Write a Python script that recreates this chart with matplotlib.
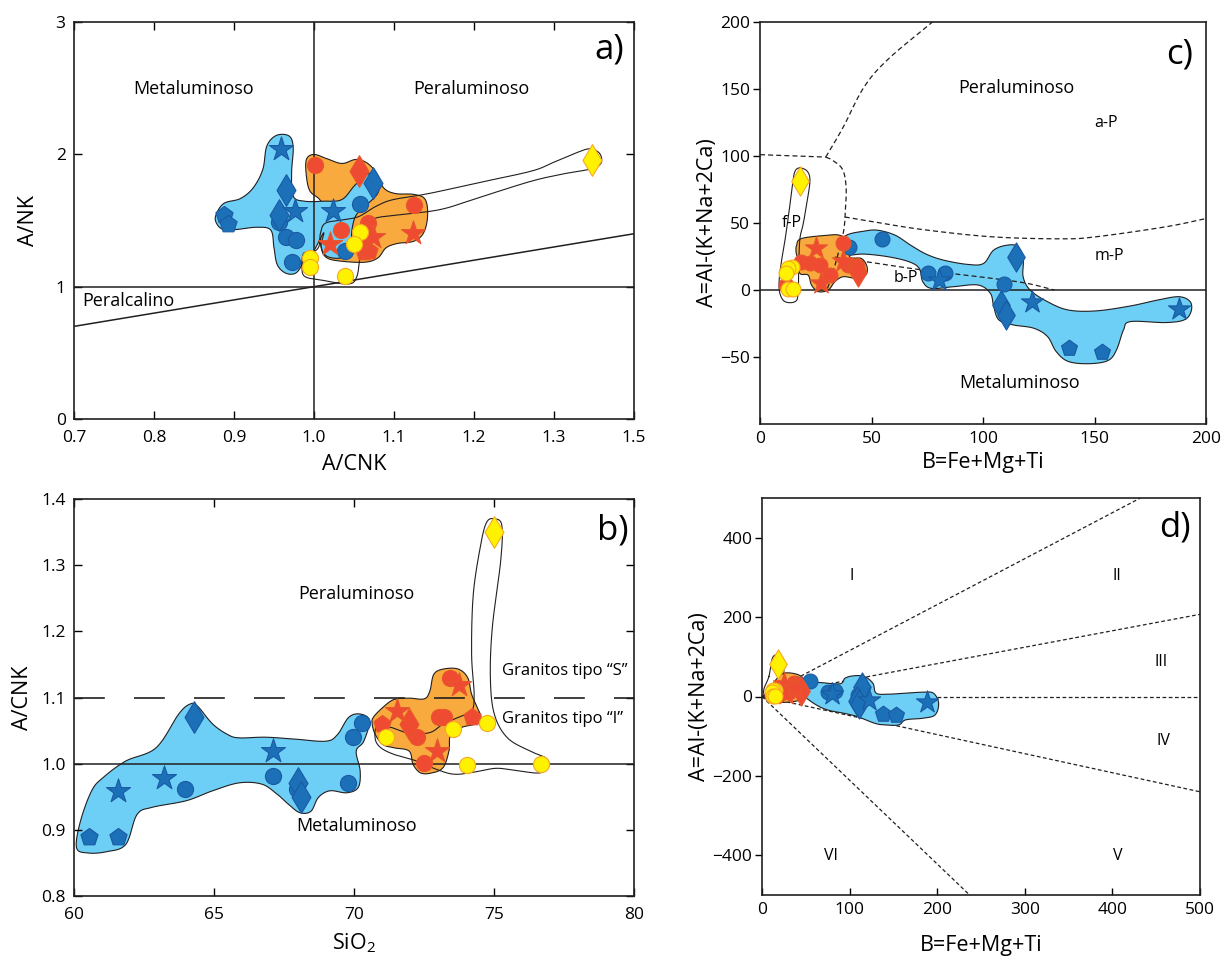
import numpy as np
import matplotlib
matplotlib.use("Agg")
import matplotlib.pyplot as plt

plt.rcParams['font.family'] = ['Open Sans', 'DejaVu Sans']
plt.rcParams['mathtext.default'] = 'regular'

# ---------------- colours ----------------
BLUE_FILL = '#6dcff6'
BLUE_FACE = '#1c70b8'
BLUE_EDGE = '#1a5aa3'
ORANGE_FILL = '#f9aa3f'
RED_FACE = '#ef4b33'
RED_EDGE = '#e8562a'
YEL_FACE = '#fff200'
YEL_EDGE = '#f7a823'
LINE = '#231f20'

# ---------------- panel a data (A/CNK vs A/NK) ----------------
a_xticks = [0.7, 0.8, 0.9, 1.0, 1.1, 1.2, 1.3, 1.4]
a_xticklabels = ['0.7', '0.8', '0.9', '1.0', '1.1', '1.2', '1.3', '1.5']
a_yticks = [0, 1, 2, 3]

a_blue_x = [0.959, 0.9645, 0.976, 0.956, 0.956, 0.9645, 0.978, 0.9726, 0.888, 0.893, 1.024, 1.0576, 1.074, 1.0387]
a_blue_y = [2.037, 1.734, 1.570, 1.538, 1.487, 1.376, 1.351, 1.187, 1.538, 1.477, 1.570, 1.626, 1.785, 1.268]
a_blue_m = ['*', 'd', '*', 'd', 'o', 'o', 'o', 'o', 'p', 'p', '*', 'o', 'd', 'o']

a_red_x = [1.001, 1.056, 1.125, 1.034, 1.067, 1.020, 1.074, 1.124, 1.064, 1.062, 1.069]
a_red_y = [1.918, 1.871, 1.619, 1.428, 1.478, 1.325, 1.377, 1.402, 1.378, 1.264, 1.270]
a_red_m = ['o', 'd', 'o', 'o', 'o', '*', '*', '*', 'o', 'p', 'p']

a_yel_x = [1.058, 1.0497, 0.9955, 0.9955, 1.039, 1.347]
a_yel_y = [1.416, 1.322, 1.214, 1.151, 1.083, 1.954]
a_yel_m = ['o', 'o', 'o', 'o', 'o', 'd']

a_blue_env_x = [0.877, 0.887, 0.908, 0.924, 0.936, 0.941, 0.953, 0.969, 0.974, 0.972, 0.974, 0.988, 1.012,
                1.035, 1.052, 1.071, 1.080, 1.080, 1.064, 1.052, 1.047, 1.047, 1.035, 1.016, 1.009, 1.012,
                0.998, 0.988, 0.984, 0.976, 0.964, 0.954, 0.950, 0.946, 0.929, 0.903, 0.887, 0.879]
a_blue_env_y = [1.533, 1.628, 1.666, 1.747, 1.886, 2.062, 2.143, 2.138, 2.049, 1.860, 1.684, 1.646, 1.646,
                1.659, 1.772, 1.860, 1.810, 1.709, 1.608, 1.533, 1.407, 1.281, 1.218, 1.230, 1.306, 1.407,
                1.255, 1.243, 1.155, 1.099, 1.104, 1.167, 1.293, 1.427, 1.449, 1.432, 1.432, 1.470]
a_or_env_x = [0.9905, 1.000, 1.0165, 1.035, 1.052, 1.066, 1.078, 1.087, 1.1015, 1.125, 1.139, 1.142, 1.137,
              1.125, 1.104, 1.090, 1.080, 1.064, 1.035, 1.016, 1.009, 1.009, 1.0165, 1.007, 0.995, 0.9905]
a_or_env_y = [1.961, 1.999, 1.966, 1.931, 1.961, 1.936, 1.860, 1.747, 1.704, 1.697, 1.659, 1.533, 1.407,
              1.344, 1.326, 1.293, 1.218, 1.185, 1.192, 1.218, 1.293, 1.407, 1.558, 1.659, 1.722, 1.835]
a_yel_env_x = [0.9975, 1.006, 1.008, 1.014, 1.035, 1.0556, 1.0765, 1.097, 1.134, 1.158, 1.205, 1.2716, 1.300,
               1.328, 1.345, 1.357, 1.359, 1.347, 1.314, 1.2716, 1.205, 1.158, 1.105, 1.0765, 1.062, 1.058,
               1.0535, 1.043, 1.014, 0.989, 0.985, 0.987]
a_yel_env_y = [1.257, 1.302, 1.403, 1.479, 1.504, 1.529, 1.604, 1.655, 1.693, 1.722, 1.785, 1.873, 1.941,
               2.012, 2.042, 2.007, 1.936, 1.891, 1.855, 1.797, 1.671, 1.583, 1.542, 1.517, 1.453, 1.252,
               1.075, 1.020, 1.045, 1.075, 1.151, 1.252]

# ---------------- panel b data (SiO2 vs A/CNK) ----------------
b_xticks = [60, 65, 70, 75, 80]
b_yticks = [0.8, 0.9, 1.0, 1.1, 1.2, 1.3, 1.4]

b_blue_x = [60.53, 61.58, 61.58, 63.2, 63.97, 64.28, 67.11, 67.11, 67.95, 67.99, 68.12, 69.77, 69.95, 70.28]
b_blue_y = [0.889, 0.889, 0.959, 0.979, 0.961, 1.070, 1.019, 0.981, 0.961, 0.971, 0.949, 0.971, 1.040, 1.061]
b_blue_m = ['p', 'p', '*', '*', 'o', 'd', '*', 'o', 'o', 'd', 'd', 'o', 'o', 'o']

b_red_x = [70.99, 71.52, 71.97, 72.24, 72.51, 72.98, 73.05, 73.21, 73.43, 73.75, 74.20]
b_red_y = [1.060, 1.080, 1.060, 1.040, 1.001, 1.019, 1.071, 1.071, 1.130, 1.119, 1.070]
b_red_m = ['p', '*', 'd', 'o', 'o', '*', 'o', 'o', 'o', '*', 'p']

b_yel_x = [71.13, 73.55, 74.02, 74.74, 76.67, 75.01]
b_yel_y = [1.040, 1.052, 0.998, 1.062, 0.999, 1.350]
b_yel_m = ['o', 'o', 'o', 'o', 'o', 'd']

b_blue_env_x = [60.09, 60.23, 60.63, 61.04, 61.85, 62.93, 63.74, 64.14, 64.41, 64.95, 65.49, 65.90, 66.84,
                67.92, 69.00, 69.41, 69.81, 70.22, 70.55, 70.35, 70.08, 70.22, 70.15, 69.74, 69.14, 68.73,
                68.46, 68.06, 67.65, 67.25, 66.71, 65.90, 64.95, 64.01, 62.79, 62.25, 61.85, 61.17, 60.50]
b_blue_env_y = [0.873, 0.913, 0.959, 0.979, 1.004, 1.024, 1.075, 1.090, 1.087, 1.060, 1.044, 1.039, 1.040,
                1.037, 1.034, 1.044, 1.070, 1.075, 1.065, 1.034, 1.019, 0.989, 0.964, 0.956, 0.959, 0.949,
                0.928, 0.926, 0.939, 0.954, 0.969, 0.971, 0.959, 0.944, 0.934, 0.923, 0.878, 0.867, 0.865]
b_or_env_x = [70.69, 71.03, 71.43, 71.97, 72.51, 72.71, 72.85, 73.19, 73.72, 74.06, 74.20, 74.40, 74.53,
              74.33, 73.86, 73.45, 73.39, 73.18, 72.78, 72.38, 72.11, 71.97, 71.43, 71.03, 70.76, 70.65]
b_or_env_y = [1.070, 1.085, 1.097, 1.099, 1.098, 1.110, 1.135, 1.143, 1.143, 1.130, 1.105, 1.085, 1.070,
              1.060, 1.055, 1.044, 1.019, 0.994, 0.986, 0.986, 0.999, 1.019, 1.024, 1.029, 1.044, 1.060]
b_yel_env_x = [70.82, 71.30, 71.97, 72.71, 73.18, 73.72, 74.20, 74.29, 74.20, 74.26, 74.53, 74.74, 75.01,
               75.28, 75.24, 74.94, 74.87, 75.01, 75.48, 76.29, 76.83, 76.96, 76.63, 75.75, 75.07, 74.40,
               73.59, 72.91, 72.24, 71.43, 70.96, 70.76]
b_yel_env_y = [1.056, 1.055, 1.046, 1.047, 1.060, 1.070, 1.080, 1.105, 1.166, 1.256, 1.332, 1.365, 1.370,
               1.360, 1.307, 1.206, 1.130, 1.075, 1.039, 1.019, 1.009, 0.997, 0.986, 0.990, 0.993, 0.988,
               0.984, 0.992, 1.004, 1.014, 1.024, 1.037]

# ---------------- panel c / d data (B vs A) ----------------
c_xticks = [0, 50, 100, 150, 200]
c_yticks = [-50, 0, 50, 100, 150, 200]
d_xticks = [0, 100, 200, 300, 400, 500]
d_yticks = [-400, -200, 0, 200, 400]

c_blue_x = [40.1, 54.7, 75.3, 83.1, 109.5, 138.5, 153.3, 114.6, 108.2, 110.2, 80.4, 121.9, 187.9]
c_blue_y = [32.2, 37.9, 12.4, 12.9, 4.2, -43.4, -45.9, 24.8, -11.2, -18.6, 7.4, -8.7, -14.4]
c_blue_m = ['o', 'o', 'o', 'o', 'o', 'p', 'p', 'd', 'd', 'd', '*', '*', '*']

c_red_x = [11.6, 18.6, 22.4, 26.8, 31.3, 37.0, 39.5, 43.3, 44.0, 25.1, 27.2, 37.3]
c_red_y = [3.7, 21.0, 19.8, 18.6, 11.1, 35.1, 18.6, 17.8, 13.6, 31.7, 5.4, 22.0]
c_red_m = ['o', 'o', 'o', 'o', 'o', 'o', 'o', 'o', 'd', '*', '*', '*']

c_yel_x = [14.5, 12.7, 11.6, 12.4, 14.9, 17.9]
c_yel_y = [17.5, 16.1, 12.4, 0.5, 0.5, 81.2]
c_yel_m = ['o', 'o', 'o', 'o', 'o', 'd']

c_blue_env_x = [34.9, 38.8, 46.6, 52.8, 60.6, 67.5, 74.5, 82.3, 93.2, 100.2, 104.8, 111.0, 115.7, 118.0, 118.0,
                121.1, 128.9, 138.2, 150.6, 166.1, 178.6, 187.9, 192.9, 193.3, 190.2, 181.7, 166.1, 163.0,
                159.9, 156.1, 147.5, 138.2, 132.8, 128.9, 122.7, 113.4, 107.1, 104.8, 103.3, 97.8, 87.0,
                76.9, 73.0, 71.4, 66.8, 57.5, 46.6, 38.8, 35.7]
c_blue_env_y = [33.5, 40.9, 43.9, 44.6, 40.9, 33.5, 26.8, 22.3, 19.1, 19.8, 29.8, 33.5, 32.2, 22.3, 9.9,
                0.0, -8.7, -14.9, -15.6, -11.9, -7.4, -5.0, -8.7, -16.1, -22.3, -24.3, -23.6, -29.8,
                -44.6, -52.6, -55.0, -53.3, -45.9, -34.7, -28.5, -26.0, -22.3, -12.4, -2.5, 3.7, 2.5,
                1.2, 6.2, 16.1, 21.1, 24.8, 26.8, 26.0, 29.3]
c_or_env_x = [16.4, 18.6, 29.8, 35.8, 39.5, 40.3, 45.5, 48.0, 47.4, 43.3, 37.3, 33.6, 30.6, 26.1, 23.1,
              21.6, 17.9, 17.1, 16.2]
c_or_env_y = [33.4, 38.4, 40.8, 40.8, 35.9, 24.7, 23.5, 17.3, 11.1, 8.7, 9.9, 6.2, 0.0, -1.2, 3.7,
              11.1, 12.4, 22.3, 28.0]
c_yel_env_x = [17.9, 21.2, 22.4, 21.2, 19.4, 17.9, 17.4, 17.1, 15.7, 11.2, 8.9, 8.6, 9.7, 11.2, 13.1, 14.6, 15.7]
c_yel_env_y = [91.1, 88.6, 81.7, 66.8, 49.5, 38.4, 20.0, -2.5, -8.7, -8.7, -2.5, 7.4, 22.3, 37.1, 59.4, 79.2, 88.6]

c_bnd1_x = [0, 29.5]
c_bnd1_y = [101, 99.2]
c_bnd2_x = [29.5, 37.3, 46.6, 57.5, 77.6]
c_bnd2_y = [99.2, 121.5, 151.3, 172.3, 200.4]
c_bnd3_x = [29.5, 32.6, 37.0, 38.6, 38.3, 37.6, 35.5, 32.5, 30.0]
c_bnd3_y = [99.2, 96.7, 90.0, 77.0, 60.0, 45.0, 30.0, 12.0, 0.0]
c_bnd4_x = [38.0, 51.2, 73.0, 104.0, 135.1, 150.6, 181.7, 200.0]
c_bnd4_y = [54.5, 50.8, 45.1, 39.7, 38.2, 39.7, 47.1, 53.3]
c_bnd5_x = [33.5, 50.0, 73.0, 104.0, 119.6, 132.0]
c_bnd5_y = [24.5, 20.5, 14.9, 8.7, 5.0, 0.0]

d_ray_x = [432, 500, 500, 500, 237]
d_ray_y = [500, 207, 0, -240, -500]

d_blue_env_x = [47.4, 65.2, 88.9, 94.9, 104.7, 116.6, 126.5, 130.4, 144.3, 164.0, 183.8, 195.7, 201.6, 197.6,
                183.8, 164.0, 156.1, 140.3, 128.5, 108.7, 92.9, 77.1, 65.2, 53.4, 45.5]
d_blue_env_y = [35.3, 35.3, 32.0, 46.3, 52.1, 50.5, 33.6, 8.4, 5.9, 8.4, 10.9, 8.4, -16.8, -46.3,
                -54.7, -58.9, -71.5, -71.5, -67.3, -50.5, -42.0, -35.3, -25.2, -8.4, 8.4]
d_or_env_x = [9.9, 15.8, 25.7, 41.5, 49.4, 51.4, 41.5, 21.7, 9.9, 4.0]
d_or_env_y = [16.8, 42.0, 58.9, 54.7, 37.8, 8.4, -10.0, -15.1, -12.6, 0.0]
d_yel_env_x = [7.9, 11.9, 17.8, 23.7, 24.9, 25.7, 23.7, 11.9, 4.0, 2.0]
d_yel_env_y = [50.5, 96.7, 105.0, 96.7, 67.3, 8.4, -12.6, -15.1, -4.2, 16.8]


# ---------------- helpers ----------------
def smooth_closed(xs, ys, n=14):
    P = np.column_stack([xs, ys]).astype(float)
    N = len(P)
    t = np.linspace(0, 1, n, endpoint=False)[:, None]
    segs = []
    for i in range(N):
        p0, p1, p2, p3 = P[i - 1], P[i], P[(i + 1) % N], P[(i + 2) % N]
        segs.append(0.5 * (2 * p1 + (-p0 + p2) * t + (2 * p0 - 5 * p1 + 4 * p2 - p3) * t ** 2
                           + (-p0 + 3 * p1 - 3 * p2 + p3) * t ** 3))
    out = np.vstack(segs)
    out = np.vstack([out, out[:1]])
    return out[:, 0], out[:, 1]


def smooth_open(xs, ys, n=14):
    P = np.column_stack([xs, ys]).astype(float)
    P = np.vstack([2 * P[0] - P[1], P, 2 * P[-1] - P[-2]])
    t = np.linspace(0, 1, n, endpoint=False)[:, None]
    segs = []
    for i in range(1, len(P) - 2):
        p0, p1, p2, p3 = P[i - 1], P[i], P[i + 1], P[i + 2]
        segs.append(0.5 * (2 * p1 + (-p0 + p2) * t + (2 * p0 - 5 * p1 + 4 * p2 - p3) * t ** 2
                           + (-p0 + 3 * p1 - 3 * p2 + p3) * t ** 3))
    out = np.vstack(segs + [P[-2][None, :]])
    return out[:, 0], out[:, 1]


def envelope(ax, xs, ys, fill, z):
    sx, sy = smooth_closed(xs, ys)
    if fill is None:
        ax.plot(sx, sy, color=LINE, lw=0.8, zorder=z)
    else:
        ax.fill(sx, sy, facecolor=fill, edgecolor=LINE, lw=0.8, zorder=z)


SIZES = {'o': 135, 'p': 170, 'd': 260, '*': 330}


def group(ax, xs, ys, ms, face, edge, scale=1.0, z=6):
    for m in ['o', 'p', 'd', '*']:
        idx = [i for i, k in enumerate(ms) if k == m]
        if idx:
            ax.scatter([xs[i] for i in idx], [ys[i] for i in idx], marker=m, s=SIZES[m] * scale,
                       facecolor=face, edgecolor=edge, linewidths=0.8, zorder=z)


def style(ax):
    for sp in ax.spines.values():
        sp.set_linewidth(1.2)
        sp.set_color(LINE)


TICK_FS = 12.5
LAB_FS = 15.5
REG_FS = 13
LET_FS = 25

fig = plt.figure(figsize=(12.23, 9.56), dpi=100)
W, H = 1223.0, 956.0
axa = fig.add_axes([74 / W, 1 - 419 / H, 560 / W, 397 / H])
axb = fig.add_axes([74 / W, 1 - 896 / H, 560 / W, 397 / H])
axc = fig.add_axes([760 / W, 1 - 424 / H, 446 / W, 402 / H])
axd = fig.add_axes([762 / W, 1 - 895 / H, 438 / W, 397 / H])

# ---------------- panel a ----------------
ax = axa
ax.set_xlim(a_xticks[0], a_xticks[-1])
ax.set_ylim(a_yticks[0], a_yticks[-1])
envelope(ax, a_or_env_x, a_or_env_y, ORANGE_FILL, 1)
envelope(ax, a_blue_env_x, a_blue_env_y, BLUE_FILL, 2)
envelope(ax, a_yel_env_x, a_yel_env_y, None, 3)
ax.axvline(1.0, color=LINE, lw=1.1, zorder=4)
ax.axhline(1.0, color=LINE, lw=1.1, zorder=4)
ax.plot([a_xticks[0], a_xticks[-1]], [a_xticks[0], a_xticks[-1]], color=LINE, lw=1.1, zorder=4)
group(ax, a_blue_x, a_blue_y, a_blue_m, BLUE_FACE, BLUE_EDGE)
group(ax, a_red_x, a_red_y, a_red_m, RED_FACE, RED_EDGE, z=7)
group(ax, a_yel_x, a_yel_y, a_yel_m, YEL_FACE, YEL_EDGE, z=8)
ax.set_xticks(a_xticks)
ax.set_xticklabels(a_xticklabels)
ax.set_yticks(a_yticks)
ax.tick_params(direction='in', top=True, right=True, length=6, width=1, labelsize=TICK_FS)
ax.tick_params(axis='x', pad=8)
ax.tick_params(axis='y', pad=6)
ax.set_xlabel('A/CNK', fontsize=LAB_FS, labelpad=6)
ax.set_ylabel('A/NK', fontsize=LAB_FS, labelpad=12)
ax.text(0.849, 2.49, 'Metaluminoso', fontsize=REG_FS, ha='center', va='center')
ax.text(1.197, 2.49, 'Peraluminoso', fontsize=REG_FS, ha='center', va='center')
ax.text(0.710, 0.89, 'Peralcalino', fontsize=REG_FS, ha='left', va='center')
ax.text(0.955, 0.93, 'a)', fontsize=LET_FS, ha='center', va='center', transform=ax.transAxes)
style(ax)

# ---------------- panel b ----------------
ax = axb
ax.set_xlim(b_xticks[0], b_xticks[-1])
ax.set_ylim(b_yticks[0], b_yticks[-1])
envelope(ax, b_blue_env_x, b_blue_env_y, BLUE_FILL, 1)
envelope(ax, b_or_env_x, b_or_env_y, ORANGE_FILL, 2)
envelope(ax, b_yel_env_x, b_yel_env_y, None, 3)
ax.axhline(1.0, color=LINE, lw=1.1, zorder=4)
ax.plot([b_xticks[0], b_xticks[-1]], [1.1, 1.1], color=LINE, lw=1.2, dashes=(18.5, 17.5), zorder=4)
group(ax, b_blue_x, b_blue_y, b_blue_m, BLUE_FACE, BLUE_EDGE)
group(ax, b_red_x, b_red_y, b_red_m, RED_FACE, RED_EDGE, z=7)
group(ax, b_yel_x, b_yel_y, b_yel_m, YEL_FACE, YEL_EDGE, z=8)
ax.set_xticks(b_xticks)
ax.set_yticks(b_yticks)
ax.set_yticklabels(['%.1f' % v for v in b_yticks])
ax.tick_params(direction='in', top=True, right=True, length=6, width=1, labelsize=TICK_FS)
ax.tick_params(axis='x', pad=8)
ax.tick_params(axis='y', pad=6)
ax.set_xlabel('SiO$_2$', fontsize=LAB_FS, labelpad=6)
ax.set_ylabel('A/CNK', fontsize=LAB_FS, labelpad=6)
ax.text(70.1, 1.256, 'Peraluminoso', fontsize=REG_FS, ha='center', va='center')
ax.text(70.1, 0.906, 'Metaluminoso', fontsize=REG_FS, ha='center', va='center')
ax.text(75.3, 1.140, 'Granitos tipo \u201cS\u201d', fontsize=12, ha='left', va='center')
ax.text(75.3, 1.067, 'Granitos tipo \u201cI\u201d', fontsize=12, ha='left', va='center')
ax.text(0.962, 0.92, 'b)', fontsize=LET_FS, ha='center', va='center', transform=ax.transAxes)
style(ax)

# ---------------- panel c ----------------
ax = axc
ax.set_xlim(c_xticks[0], c_xticks[-1])
ax.set_ylim(-100, c_yticks[-1])
envelope(ax, c_blue_env_x, c_blue_env_y, BLUE_FILL, 1)
envelope(ax, c_or_env_x, c_or_env_y, ORANGE_FILL, 2)
envelope(ax, c_yel_env_x, c_yel_env_y, None, 3)
ax.axhline(0, color=LINE, lw=1.1, zorder=4)
for bx, by in [(c_bnd1_x, c_bnd1_y), (c_bnd2_x, c_bnd2_y), (c_bnd3_x, c_bnd3_y),
               (c_bnd4_x, c_bnd4_y), (c_bnd5_x, c_bnd5_y)]:
    sx, sy = smooth_open(bx, by)
    ax.plot(sx, sy, color=LINE, lw=0.9, dashes=(4, 2.5), zorder=4)
group(ax, c_blue_x, c_blue_y, c_blue_m, BLUE_FACE, BLUE_EDGE, scale=0.85)
group(ax, c_red_x, c_red_y, c_red_m, RED_FACE, RED_EDGE, scale=0.85, z=7)
group(ax, c_yel_x, c_yel_y, c_yel_m, YEL_FACE, YEL_EDGE, scale=0.85, z=8)
ax.set_xticks(c_xticks)
ax.set_yticks(c_yticks)
ax.tick_params(axis='x', direction='in', length=5, width=1, labelsize=TICK_FS, pad=5)
ax.tick_params(axis='y', direction='out', length=5, width=1, labelsize=TICK_FS, pad=2)
ax.set_xlabel('B=Fe+Mg+Ti', fontsize=LAB_FS, labelpad=4)
ax.set_ylabel('A=Al-(K+Na+2Ca)', fontsize=LAB_FS, labelpad=2)
ax.text(114.9, 150.8, 'Peraluminoso', fontsize=REG_FS, ha='center', va='center')
ax.text(116.5, -69.4, 'Metaluminoso', fontsize=REG_FS, ha='center', va='center')
ax.text(155, 124.5, 'a-P', fontsize=11.5, ha='center', va='center')
ax.text(156.8, 25.3, 'm-P', fontsize=11.5, ha='center', va='center')
ax.text(65.2, 8.7, 'b-P', fontsize=11.5, ha='center', va='center', zorder=9)
ax.text(14.3, 50.0, 'f-P', fontsize=11.5, ha='center', va='center', zorder=9)
ax.text(0.94, 0.92, 'c)', fontsize=LET_FS, ha='center', va='center', transform=ax.transAxes)
style(ax)

# ---------------- panel d ----------------
ax = axd
ax.set_xlim(d_xticks[0], d_xticks[-1])
ax.set_ylim(-500, 500)
for ex, ey in zip(d_ray_x, d_ray_y):
    ax.plot([0, ex], [0, ey], color=LINE, lw=0.9, dashes=(3, 2), zorder=1)
envelope(ax, d_blue_env_x, d_blue_env_y, BLUE_FILL, 2)
envelope(ax, d_or_env_x, d_or_env_y, ORANGE_FILL, 3)
envelope(ax, d_yel_env_x, d_yel_env_y, None, 4)
group(ax, c_blue_x, c_blue_y, c_blue_m, BLUE_FACE, BLUE_EDGE, scale=0.85)
group(ax, c_red_x, c_red_y, c_red_m, RED_FACE, RED_EDGE, scale=0.85, z=7)
group(ax, c_yel_x, c_yel_y, c_yel_m, YEL_FACE, YEL_EDGE, scale=0.85, z=8)
ax.set_xticks(d_xticks)
ax.set_yticks(d_yticks)
ax.tick_params(axis='x', direction='in', length=5, width=1, labelsize=TICK_FS, pad=5)
ax.tick_params(axis='y', direction='out', length=5, width=1, labelsize=TICK_FS, pad=2)
ax.set_xlabel('B=Fe+Mg+Ti', fontsize=LAB_FS, labelpad=12)
ax.set_ylabel('A=Al-(K+Na+2Ca)', fontsize=LAB_FS, labelpad=2)
for lab, lx, ly in [('I', 102, 303), ('II', 405, 303), ('III', 456, 88),
                    ('IV', 458, -113), ('V', 406, -402), ('VI', 79, -402)]:
    ax.text(lx, ly, lab, fontsize=11.5, ha='center', va='center')
ax.text(0.943, 0.925, 'd)', fontsize=LET_FS, ha='center', va='center', transform=ax.transAxes)
style(ax)

fig.savefig('out.png', dpi=100)
